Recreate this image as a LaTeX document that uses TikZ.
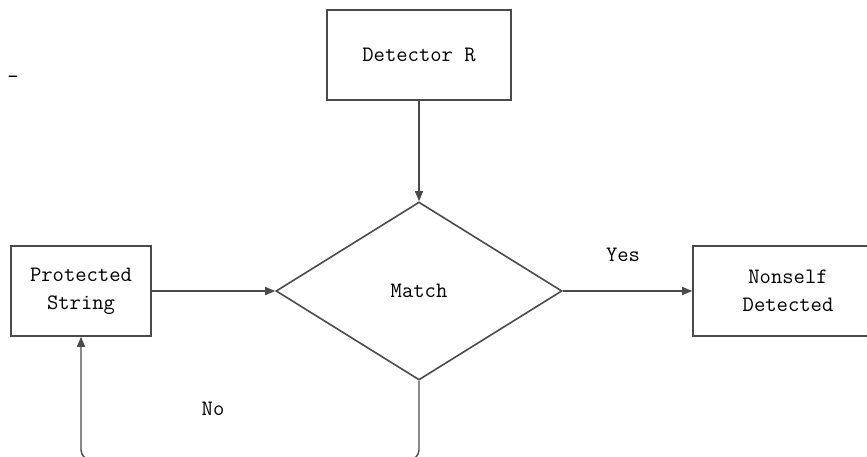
\documentclass[tikz,border=0pt]{standalone}
\usetikzlibrary{shapes.geometric,arrows.meta}
\definecolor{ln}{HTML}{4A4A4A}
\begin{document}
\begin{tikzpicture}[x=1pt,y=-1pt,
  txt/.style={font=\ttfamily\fontsize{22}{28}\selectfont, text=black},
  boxnode/.style={draw=ln, line width=1.6pt, txt, align=center, inner sep=0pt},
  arr/.style={draw=ln, line width=1.4pt, -{Triangle[length=10pt,width=8pt]}}]
\useasboundingbox (0,0) rectangle (867,456);
\clip (0,0) rectangle (867,456);
\node[boxnode, minimum width=184, minimum height=90] (det) at (419,55) {Detector R};
\node[boxnode, shape=diamond, minimum width=286, minimum height=178] (match) at (419,291) {Match};
\node[boxnode, minimum width=140, minimum height=90] (prot) at (81,291) {Protected\\String};
\node[boxnode, minimum width=190, minimum height=90] (non) at (788,291) {Nonself\\Detected};
\draw[arr] (det.south) -- (match.north);
\draw[arr] (prot.east) -- (match.west);
\draw[arr] (match.east) -- (non.west);
\draw[arr, rounded corners=10pt] (match.south) -- ++(0,79) -| (prot.south);
\node[txt] (yes) at (623,255) {Yes};
\node[txt] (no) at (213,409) {No};
\node[txt] (dash) at (13,80) {-};
\end{tikzpicture}
\end{document}
